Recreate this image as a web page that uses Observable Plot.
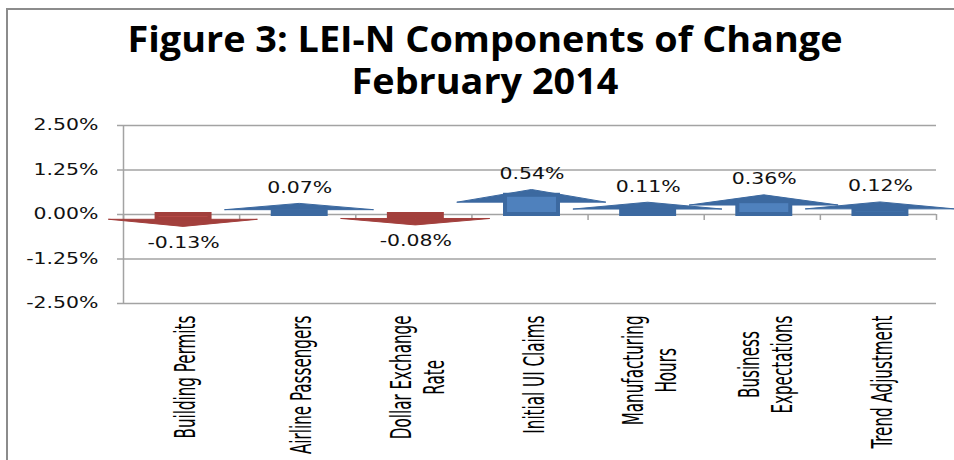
<!DOCTYPE html>
<html><head><meta charset="utf-8">
<script src="https://cdn.jsdelivr.net/npm/d3@7"></script>
<script src="https://cdn.jsdelivr.net/npm/@observablehq/plot@0.6"></script>
<style>
html,body{margin:0;padding:0;background:#fff;}
body{width:954px;height:460px;overflow:hidden;position:relative;}
#frame{position:absolute;left:6px;top:8px;width:1000px;height:500px;border-top:2px solid #8c8c8c;border-left:2px solid #8c8c8c;pointer-events:none;}
#title{position:relative;height:110px;font-family:"Open Sans",sans-serif;font-weight:700;color:#000;}
#title div{position:absolute;left:0;white-space:nowrap;font-size:36px;line-height:36px;transform-origin:0 0;}
#chart{position:relative;height:350px;}
#chart svg{display:block;overflow:visible;}
</style></head>
<body>
<div id="title"><div id="t1">Figure 3: LEI-N Components of Change</div><div id="t2">February 2014</div></div>
<div id="chart"></div>
<div id="frame"></div>
<script>
// ---- data ----
const categories = ["Building Permits", "Airline Passengers", "Dollar Exchange\nRate", "Initial UI Claims", "Manufacturing\nHours", "Business\nExpectations", "Trend Adjustment"];
const values = [-0.13, 0.07, -0.08, 0.54, 0.11, 0.36, 0.12];
const valueLabels = ["-0.13%", "0.07%", "-0.08%", "0.54%", "0.11%", "0.36%", "0.12%"];
const yTicks = [-2.5, -1.25, 0, 1.25, 2.5];
const yTickLabels = ["-2.50%", "-1.25%", "0.00%", "1.25%", "2.50%"];

// ---- styles ----
const BLUE_HEAD = "#3c69a0", BLUE_BODY = "#4f81bd";
const RED_HEAD = "#a23f3c", RED_BODY = "#c0504d";
const GRID = "#a3a3a3";
const numFam = '"DejaVu Sans", Verdana, sans-serif';
const labFam = '"Liberation Sans Narrow", "DejaVu Sans Condensed", "Open Sans", sans-serif';

const ctx = document.createElement("canvas").getContext("2d");
function tw(font, s) { ctx.font = font; return ctx.measureText(s).width; }

// title fitting
const titleFont = 'bold 36px "Open Sans", sans-serif';
const kTitle = 715 / tw(titleFont, "Figure 3: LEI-N Components of Change");
const titleCx = 485;
[["t1", 21], ["t2", 63]].forEach(([id, top]) => {
  const el = document.getElementById(id);
  const w = tw(titleFont, el.textContent);
  el.style.top = top + "px";
  el.style.transform = `translate(${titleCx - w * kTitle / 2}px,0) scaleX(${kTitle})`;
});

const numSize = 15;
const kNum = 65 / tw(`${numSize}px ${numFam}`, "2.50%");
const labSize = 20 * 123 / tw(`20px ${labFam}`, "Building Permits");
const kLab = 22 / (0.8 * labSize);

// ---- derived arrow geometry ----
const idx = d3.range(categories.length);
const shape = idx.map(i => {
  const v = values[i], s = v >= 0 ? 1 : -1, a = Math.abs(v);
  const base = s * (0.09 + 0.45 * a);
  const apex = base + s * (0.15 + 0.38 * a);
  return {i, v, base, apex, pos: v >= 0};
});
const head = shape.flatMap(d => [
  {i: d.i, x: d.i - 0.64, y1: d.base, y2: d.base, pos: d.pos},
  {i: d.i, x: d.i, y1: d.base, y2: d.apex, pos: d.pos},
  {i: d.i, x: d.i + 0.64, y1: d.base, y2: d.base, pos: d.pos}
]);
const bounds = d3.range(categories.length + 1).map(k => k - 0.5);

const plot = Plot.plot({
  width: 954,
  height: 350,
  marginTop: 15,
  marginBottom: 157,
  marginLeft: 123,
  marginRight: 18,
  style: {fontFamily: numFam, fontSize: numSize + "px", overflow: "visible", background: "transparent"},
  x: {domain: [-0.5, categories.length - 0.5], axis: null},
  y: {domain: [-2.5, 2.5], axis: null},
  color: {type: "identity"},
  marks: [
    Plot.ruleY(yTicks, {x1: -0.5, x2: categories.length - 0.5, stroke: GRID, strokeWidth: 1.5}),
    Plot.ruleX([-0.5], {y1: -2.5, y2: 2.5, stroke: GRID, strokeWidth: 1.5}),
    Plot.axisY(yTicks, {tickSize: 6, tickPadding: 19, stroke: GRID, strokeWidth: 1.5, fill: "#111",
      fontSize: numSize, tickFormat: d => yTickLabels[yTicks.indexOf(d)]}),
    Plot.ruleX(bounds, {y1: 0, y2: 0, insetBottom: -6, stroke: GRID, strokeWidth: 1.5}),
    Plot.areaY(head, {x: "x", y1: "y1", y2: "y2", z: "i", dx: 2,
      fill: d => d.pos ? BLUE_HEAD : RED_HEAD, stroke: d => d.pos ? BLUE_HEAD : RED_HEAD, strokeWidth: 1}),
    Plot.rect(shape, {x1: d => d.i - 0.228, x2: d => d.i + 0.228, y1: 0, y2: "v", dx: 2,
      fill: d => d.pos ? BLUE_BODY : RED_BODY, stroke: d => d.pos ? BLUE_HEAD : RED_HEAD, strokeWidth: 4}),
    Plot.text(shape.filter(d => d.pos), {x: "i", y: "apex", text: d => valueLabels[d.i], dx: 2, dy: -16,
      fontSize: numSize, fill: "#111", ariaLabel: () => "value-label"}),
    Plot.text(shape.filter(d => !d.pos), {x: "i", y: "apex", text: d => valueLabels[d.i], dx: 2, dy: 16,
      fontSize: numSize, fill: "#111", ariaLabel: () => "value-label"}),
    Plot.text(idx, {x: i => i, y: -2.5, text: i => categories[i], rotate: -90, textAnchor: "middle",
      lineAnchor: "middle", lineHeight: 1.2, fontFamily: labFam, fontSize: labSize, fill: "#000",
      ariaLabel: () => "xlab"})
  ]
});
document.getElementById("chart").append(plot);

const textGroups = plot.querySelectorAll('g[aria-label="text"]');
const valueTexts = [...plot.querySelectorAll('text[aria-label="value-label"]')];
const labTexts = [...plot.querySelectorAll('text[aria-label="xlab"]')];
const vt = valueTexts.length ? valueTexts : [...textGroups].slice(0, 2).flatMap(g => [...g.querySelectorAll("text")]);
const lt = labTexts.length ? labTexts : (textGroups[2] ? [...textGroups[2].querySelectorAll("text")] : []);

// stretch number glyphs horizontally (reference picture is widened)
[...plot.querySelectorAll('g[aria-label="y-axis tick label"] text'), ...vt].forEach(t => {
  t.setAttribute("transform", (t.getAttribute("transform") || "") + ` scale(${kNum},1)`);
});
// category labels: top-aligned block, centred lines, widened glyphs
const labTop = 315 - 110;
lt.forEach(t => {
  const tr = t.getAttribute("transform") || "";
  const m = /translate\(([-\d.e]+),\s*([-\d.e]+)\)/.exec(tr);
  const X = m ? +m[1] : 0;
  const b = t.getBBox();
  const Y = labTop + b.x + b.width;
  t.setAttribute("transform", `translate(${X + 3},${Y}) rotate(-90) scale(1,${kLab})`);
});
</script>
</body></html>
